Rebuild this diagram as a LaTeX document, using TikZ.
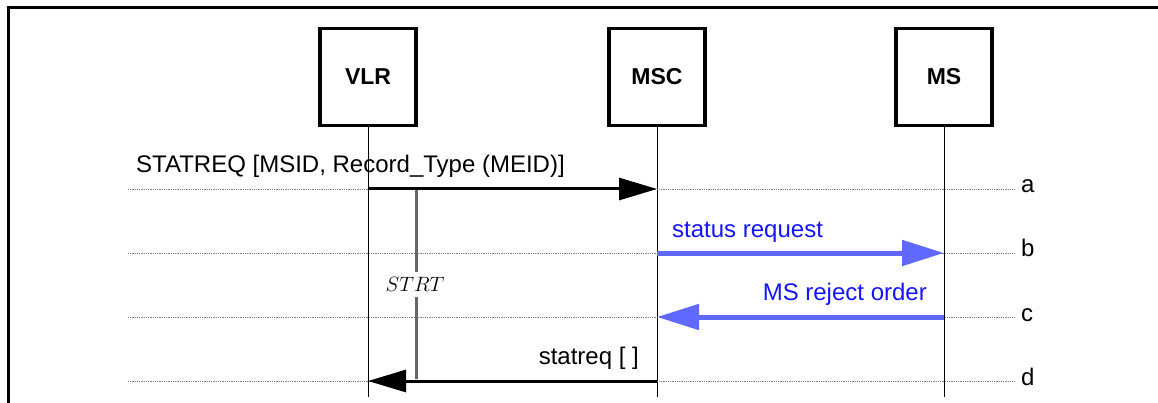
\documentclass[tikz,border=0pt]{standalone}
\usepackage{fontspec}
\setmainfont{Liberation Sans}
\usetikzlibrary{arrows.meta}
\definecolor{hatchblue}{RGB}{95,105,255}
\definecolor{txtblue}{RGB}{20,20,255}
\tikzset{
  entity/.style={draw=black, line width=3.5pt, minimum width=96pt, minimum height=97pt, inner sep=0pt, font=\fontsize{23}{26}\selectfont\bfseries},
  lifeline/.style={draw=black, line width=1pt},
  rowline/.style={draw=black!50, line width=0.9pt, dash pattern=on 1pt off 0.8pt},
  msgblack/.style={draw=black, line width=3pt, -{Triangle[length=38pt,width=22pt]}},
  msgblue/.style={draw=hatchblue, line width=5pt, -{Triangle[length=42pt,width=25pt]}},
  lbl/.style={font=\fontsize{24}{27}\selectfont, inner sep=0pt},
  bluelbl/.style={lbl, text=txtblue},
  timerline/.style={draw=black!60, line width=3pt},
  frameline/.style={draw=black, line width=3pt}
}
\begin{document}
\begin{tikzpicture}[x=1pt,y=-1pt]
\useasboundingbox (0,0) rectangle (1158,403);
% frame
\coordinate (f-bl) at (8.5,403);
\coordinate (f-tl) at (8.5,7.5);
\coordinate (f-tr) at (1158,7.5);
\draw[frameline] (f-bl) -- (f-tl) -- (f-tr);
% entities
\node[entity] (vlr) at (368,77) {VLR};
\node[entity] (msc) at (657,77) {MSC};
\node[entity] (ms)  at (944,77) {MS};
% lifeline ends
\coordinate (vlr-end) at (368,397);
\coordinate (msc-end) at (657,397);
\coordinate (ms-end)  at (944,397);
\draw[lifeline] (vlr.south) -- (vlr-end);
\draw[lifeline] (msc.south) -- (msc-end);
\draw[lifeline] (ms.south) -- (ms-end);
% rows
\foreach \r/\y in {a/189,b/253,c/317,d/381}{
  \coordinate (row\r-l) at (128,\y);
  \coordinate (row\r-r) at (1015,\y);
  \draw[rowline] (row\r-l) -- (row\r-r);
  \node[lbl, anchor=base west] (tag\r) at (1021,\y+4) {\r};
}
% messages
\draw[msgblack] (vlr |- rowa-l) -- (msc |- rowa-l);
\node[lbl, anchor=base west] (la) at (136,173) {STATREQ [MSID, Record\_Type (MEID)]};
\draw[msgblue] (msc |- rowb-l) -- (ms |- rowb-l);
\node[bluelbl, anchor=base west] (lb) at (672,237) {status request};
\draw[msgblue] (ms |- rowc-l) -- (msc |- rowc-l);
\node[bluelbl, anchor=base east] (lc) at (927,300) {MS reject order};
\draw[msgblack] (msc |- rowd-l) -- (vlr |- rowd-l);
\node[lbl, anchor=base east] (ld) at (639,364) {statreq [ ]};
% timer
\coordinate (t-top) at (416,190.5);
\coordinate (t-mid1) at (416,272);
\coordinate (t-mid2) at (416,297);
\coordinate (t-bot) at (416,379);
\draw[timerline] (t-top) -- (t-mid1);
\draw[timerline] (t-mid2) -- (t-bot);
\node[inner sep=0pt, font=\fontsize{22.5}{26}\selectfont] (strt) at (415,284) {$STRT$};
\end{tikzpicture}
\end{document}
